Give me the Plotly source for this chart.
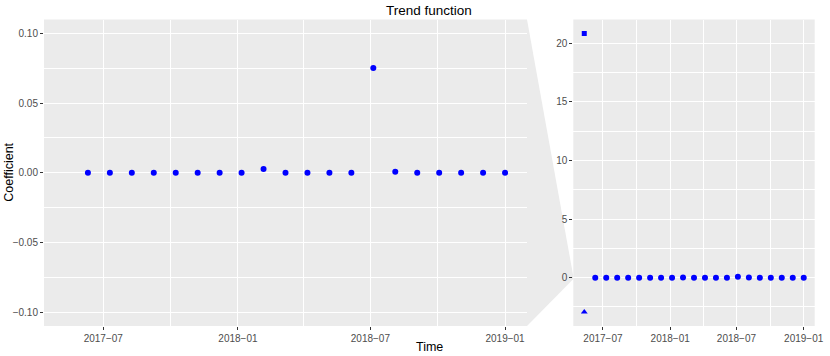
import plotly.graph_objects as go

# trend coefficients, one per time step
dates = [
    "2017-06-10", "2017-07-10", "2017-08-09", "2017-09-08", "2017-10-08",
    "2017-11-07", "2017-12-07", "2018-01-06", "2018-02-05", "2018-03-07",
    "2018-04-06", "2018-05-06", "2018-06-05", "2018-07-05", "2018-08-04",
    "2018-09-03", "2018-10-03", "2018-11-02", "2018-12-02", "2019-01-01",
]
coef = [
    0.0, 0.0, 0.0, 0.0, 0.0, 0.0, 0.0, 0.0, 0.0027, 0.0,
    0.0, 0.0, 0.0, 0.0751, 0.0007, 0.0, 0.0, 0.0, 0.0, 0.0,
]
# the two extra terms only visible in the full panel
extra_date = ["2017-05-11"]
extra_square = [20.85]
extra_triangle = [-2.94]

x_range = ["2017-04-11", "2019-01-31"]
zoom_range = [-0.11, 0.11]
full_range = [-4.13, 22.04]

W, H = 830, 356
left_dom = [44 / W, 527 / W]
right_dom = [573.3 / W, 814.7 / W]
y_dom = [1 - 326 / H, 1 - 19.5 / H]

BLUE = "#0000FF"
PANEL = "#EBEBEB"
TXT = "#4D4D4D"
FONT = "Liberation Sans, Arial, sans-serif"

fig = go.Figure()
fig.add_trace(go.Scatter(x=dates, y=coef, mode="markers", marker=dict(color=BLUE, size=6),
                         xaxis="x", yaxis="y", showlegend=False))
fig.add_trace(go.Scatter(x=dates, y=coef, mode="markers", marker=dict(color=BLUE, size=6),
                         xaxis="x2", yaxis="y2", showlegend=False))
fig.add_trace(go.Scatter(x=extra_date, y=extra_square, mode="markers",
                         marker=dict(color=BLUE, size=5, symbol="square"),
                         xaxis="x2", yaxis="y2", showlegend=False))
fig.add_trace(go.Scatter(x=extra_date, y=extra_triangle, mode="markers",
                         marker=dict(color=BLUE, size=6, symbol="triangle-up"),
                         xaxis="x2", yaxis="y2", showlegend=False))

common_x = dict(
    type="date", range=x_range, tick0="2017-01-01", dtick="M6", tickformat="%Y\u2212%m",
    showgrid=True, gridcolor="white", gridwidth=1.2, zeroline=False, automargin=False,
    ticks="outside", ticklen=3, tickcolor="#333333", tickwidth=1,
    tickfont=dict(size=10, color=TXT, family=FONT), showline=False,
    minor=dict(dtick="M3", tick0="2017-01-01", showgrid=True, gridcolor="white", gridwidth=0.6, ticks=""),
)
common_y = dict(
    showgrid=True, gridcolor="white", gridwidth=1.2, zeroline=False, automargin=False,
    ticks="outside", ticklen=3, tickcolor="#333333", tickwidth=1,
    tickfont=dict(size=10, color=TXT, family=FONT), showline=False,
)

fig.update_layout(
    width=W, height=H, margin=dict(l=0, r=0, t=0, b=0, autoexpand=False),
    paper_bgcolor="white", plot_bgcolor=PANEL,
    font=dict(family=FONT, color="black"),
    xaxis=dict(domain=left_dom, anchor="y", **common_x),
    yaxis=dict(domain=y_dom, anchor="x", range=zoom_range, dtick=0.05, tickformat=".2f",
               minor=dict(dtick=0.025, showgrid=True, gridcolor="white", gridwidth=0.6, ticks=""),
               **common_y),
    xaxis2=dict(domain=right_dom, anchor="y2", **common_x),
    yaxis2=dict(domain=y_dom, anchor="x2", range=full_range, dtick=5,
                minor=dict(dtick=2.5, showgrid=True, gridcolor="white", gridwidth=0.6, ticks=""),
                **common_y),
)


def y2_paper(v):
    f = (v - full_range[0]) / (full_range[1] - full_range[0])
    return y_dom[0] + f * (y_dom[1] - y_dom[0])


# zoom connector between the two panels
path = (f"M {left_dom[1]},{y_dom[1]} L {right_dom[0]},{y2_paper(zoom_range[1])} "
        f"L {right_dom[0]},{y2_paper(zoom_range[0])} L {left_dom[1]},{y_dom[0]} Z")
fig.add_shape(type="path", path=path, xref="paper", yref="paper",
              fillcolor=PANEL, line=dict(width=0), layer="below")

mid = (left_dom[0] + right_dom[1]) / 2
fig.add_annotation(text="Trend function", x=mid, y=1 - 0.5 / H, xref="paper", yref="paper",
                   xanchor="center", yanchor="top", showarrow=False,
                   font=dict(size=13.5, color="black", family=FONT))
fig.add_annotation(text="Time", x=mid, y=0, xref="paper", yref="paper",
                   xanchor="center", yanchor="bottom", showarrow=False,
                   font=dict(size=12.5, color="black", family=FONT))
fig.add_annotation(text="Coefficient", x=0, y=(y_dom[0] + y_dom[1]) / 2, xref="paper", yref="paper",
                   xanchor="left", yanchor="middle", textangle=-90, showarrow=False,
                   font=dict(size=12.5, color="black", family=FONT))

# page body has a default margin; drop it so the figure sits at the window origin
fig.write_html("out.html", config={"displayModeBar": False},
               post_script="document.body.style.margin='0';")
